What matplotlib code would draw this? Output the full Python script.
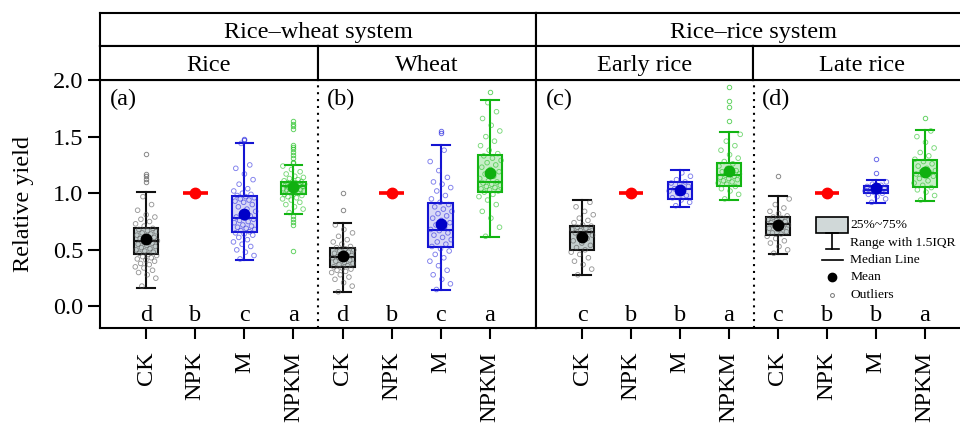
import numpy as np
import matplotlib.pyplot as plt
from matplotlib.patches import Rectangle

plt.rcParams['font.family'] = ['Liberation Serif', 'DejaVu Serif']

# ------------------------------------------------------------------
# data
# ------------------------------------------------------------------
TREATMENTS = ["CK", "NPK", "M", "NPKM"]
PANEL_TAGS = ["(a)", "(b)", "(c)", "(d)"]
LETTERS = [["d", "b", "c", "a"],
           ["d", "b", "c", "a"],
           ["c", "b", "b", "a"],
           ["c", "b", "b", "a"]]

# box statistics per panel, order CK, NPK, M, NPKM
Q1 = [[0.466, 1.0, 0.66, 0.99],
      [0.35, 1.0, 0.525, 1.01],
      [0.50, 1.0, 0.95, 1.065],
      [0.63, 1.0, 1.00, 1.057]]
MEDIAN = [[0.575, 1.0, 0.78, 1.06],
          [0.435, 1.0, 0.675, 1.095],
          [0.66, 1.0, 1.035, 1.16],
          [0.725, 1.0, 1.03, 1.175]]
Q3 = [[0.69, 1.0, 0.98, 1.10],
      [0.52, 1.0, 0.915, 1.34],
      [0.71, 1.0, 1.10, 1.265],
      [0.79, 1.0, 1.065, 1.29]]
WHIS_LO = [[0.165, 1.0, 0.41, 0.82],
           [0.127, 1.0, 0.145, 0.61],
           [0.275, 1.0, 0.88, 0.94],
           [0.466, 1.0, 0.91, 0.933]]
WHIS_HI = [[1.01, 1.0, 1.44, 1.245],
           [0.735, 1.0, 1.43, 1.82],
           [0.94, 1.0, 1.205, 1.537],
           [0.977, 1.0, 1.12, 1.557]]
MEAN = [[0.60, 1.0, 0.815, 1.055],
        [0.45, 1.0, 0.73, 1.175],
        [0.61, 1.0, 1.03, 1.20],
        [0.72, 1.0, 1.05, 1.19]]

OUTLIERS = [
    [[1.345, 1.17, 1.15, 1.13, 1.095], [], [1.48, 1.47],
     [1.635, 1.61, 1.59, 1.57, 1.43, 1.41, 1.39, 1.36, 1.34, 1.31, 1.28, 1.27,
      0.80, 0.77, 0.75, 0.72, 0.49]],
    [[1.0, 0.855], [], [1.55, 1.53], [1.89]],
    [[], [], [], [1.94, 1.815, 1.76, 1.635]],
    [[1.154], [], [1.30, 1.18], [1.667]],
]

# individual observations (approximate)
POINTS_A = [
    [0.18, 0.25, 0.28, 0.30, 0.32, 0.34, 0.35, 0.37, 0.38, 0.40, 0.41, 0.42,
     0.43, 0.44, 0.45, 0.46, 0.47, 0.48, 0.49, 0.50, 0.51, 0.52, 0.53, 0.54,
     0.55, 0.56, 0.57, 0.58, 0.59, 0.60, 0.61, 0.62, 0.63, 0.64, 0.65, 0.66,
     0.67, 0.68, 0.69, 0.71, 0.73, 0.75, 0.77, 0.79, 0.81, 0.85, 0.90, 0.97],
    [],
    [0.42, 0.45, 0.48, 0.50, 0.53, 0.55, 0.57, 0.59, 0.61, 0.63, 0.64, 0.65,
     0.66, 0.67, 0.68, 0.69, 0.70, 0.71, 0.72, 0.74, 0.75, 0.76, 0.77, 0.78,
     0.79, 0.80, 0.82, 0.84, 0.86, 0.88, 0.90, 0.92, 0.93, 0.94, 0.95, 0.96,
     0.97, 0.98, 0.99, 1.00, 1.02, 1.04, 1.08, 1.12, 1.17, 1.22, 1.25, 1.44],
    [0.83, 0.86, 0.88, 0.90, 0.92, 0.94, 0.95, 0.96, 0.97, 0.98, 0.99, 0.99,
     1.00, 1.01, 1.02, 1.02, 1.03, 1.03, 1.04, 1.04, 1.05, 1.05, 1.06, 1.06,
     1.07, 1.07, 1.08, 1.08, 1.09, 1.09, 1.10, 1.10, 1.11, 1.12, 1.13, 1.14,
     1.15, 1.17, 1.19, 1.21, 1.24],
]
POINTS_B = [
    [0.13, 0.18, 0.21, 0.24, 0.26, 0.28, 0.30, 0.31, 0.32, 0.33, 0.34, 0.35,
     0.36, 0.37, 0.38, 0.39, 0.40, 0.41, 0.42, 0.43, 0.43, 0.44, 0.45, 0.46,
     0.47, 0.48, 0.49, 0.50, 0.51, 0.52, 0.53, 0.55, 0.57, 0.59, 0.62, 0.65,
     0.68, 0.72],
    [],
    [0.15, 0.20, 0.24, 0.28, 0.32, 0.36, 0.40, 0.43, 0.46, 0.49, 0.51, 0.53,
     0.55, 0.57, 0.59, 0.61, 0.63, 0.65, 0.67, 0.68, 0.70, 0.72, 0.74, 0.76,
     0.78, 0.80, 0.82, 0.84, 0.86, 0.88, 0.90, 0.92, 0.95, 0.98, 1.02, 1.05,
     1.08, 1.10, 1.14, 1.20, 1.28, 1.38],
    [0.62, 0.70, 0.78, 0.84, 0.90, 0.94, 0.97, 0.99, 1.01, 1.02, 1.03, 1.04,
     1.05, 1.06, 1.07, 1.08, 1.09, 1.10, 1.11, 1.13, 1.15, 1.17, 1.19, 1.21,
     1.23, 1.25, 1.27, 1.29, 1.31, 1.33, 1.35, 1.38, 1.42, 1.46, 1.50, 1.55,
     1.60, 1.66, 1.72, 1.80],
]
POINTS_C = [
    [0.28, 0.33, 0.37, 0.40, 0.43, 0.46, 0.48, 0.50, 0.52, 0.54, 0.56, 0.58,
     0.60, 0.62, 0.63, 0.64, 0.65, 0.66, 0.67, 0.68, 0.69, 0.70, 0.71, 0.72,
     0.74, 0.76, 0.78, 0.81, 0.84, 0.88, 0.92],
    [],
    [0.89, 0.92, 0.94, 0.96, 0.98, 1.00, 1.02, 1.03, 1.04, 1.06, 1.08, 1.09,
     1.10, 1.12, 1.15, 1.18],
    [0.95, 0.99, 1.02, 1.04, 1.06, 1.08, 1.09, 1.10, 1.11, 1.12, 1.13, 1.14,
     1.15, 1.16, 1.17, 1.18, 1.19, 1.20, 1.22, 1.24, 1.26, 1.28, 1.31, 1.34,
     1.38, 1.42, 1.46, 1.52],
]
POINTS_D = [
    [0.47, 0.50, 0.53, 0.56, 0.58, 0.60, 0.62, 0.64, 0.65, 0.66, 0.68, 0.69,
     0.70, 0.71, 0.72, 0.73, 0.74, 0.75, 0.76, 0.77, 0.78, 0.79, 0.80, 0.82,
     0.84, 0.87, 0.90, 0.95],
    [],
    [0.92, 0.95, 0.97, 0.99, 1.00, 1.01, 1.02, 1.03, 1.03, 1.04, 1.05, 1.06,
     1.07, 1.08, 1.10],
    [0.94, 0.98, 1.01, 1.03, 1.05, 1.07, 1.09, 1.11, 1.13, 1.15, 1.16, 1.17,
     1.18, 1.19, 1.20, 1.22, 1.24, 1.26, 1.28, 1.30, 1.33, 1.36, 1.40, 1.45,
     1.50, 1.55],
]
POINTS = [POINTS_A, POINTS_B, POINTS_C, POINTS_D]

SYSTEMS = ["Rice\u2013wheat system", "Rice\u2013rice system"]
CROPS = ["Rice", "Wheat", "Early rice", "Late rice"]

# styles per treatment
EDGE = ["#111111", "#ff0000", "#1414d2", "#12b412"]
FILL = ["#c4cece", "none", "#d8d8f6", "#c8eec8"]
PT_COL = ["#555555", "#ff0000", "#2a2ae0", "#22c022"]
MEAN_COL = ["#000000", "#ff0000", "#0000c8", "#10b010"]

# ------------------------------------------------------------------
# layout (pixel based)
# ------------------------------------------------------------------
W, H = 960, 429
fig = plt.figure(figsize=(W / 100, H / 100), dpi=100)


def px_rect(x0, y0, x1, y1):
    return [x0 / W, 1 - y1 / H, (x1 - x0) / W, (y1 - y0) / H]


SYS_X = [(100, 536), (536, 971)]
LW = 1.5
FS = 17.5

axes = []
for s, (x0, x1) in enumerate(SYS_X):
    ax = fig.add_axes(px_rect(x0, 80, x1, 328))
    ax.set_xlim(0.06, 8.94)
    ax.set_ylim(-0.19, 2.0)
    for sp in ax.spines.values():
        sp.set_linewidth(LW)
    ax.set_xticks(range(1, 9))
    ax.set_xticklabels(TREATMENTS * 2, rotation=90)
    ax.tick_params(axis='x', length=8, width=LW, labelsize=FS, pad=9)
    if s == 0:
        ax.set_yticks([0.0, 0.5, 1.0, 1.5, 2.0])
        ax.set_yticklabels([f"{v:.1f}" for v in [0.0, 0.5, 1.0, 1.5, 2.0]])
        ax.tick_params(axis='y', length=9, width=LW, labelsize=FS, pad=3)
    else:
        ax.tick_params(axis='y', left=False, labelleft=False)
    ax.axvline(4.5, color='k', lw=1.5, ls=(0, (1, 2.3)), zorder=1)
    axes.append(ax)

jit_cache = {}


def jitter(n):
    if n not in jit_cache:
        jit_cache[n] = ((np.arange(n) * 0.618034 + 0.31) % 1 - 0.5) * 0.46
    return jit_cache[n]


for p in range(4):
    ax = axes[p // 2]
    off = 4 * (p % 2)
    for t in range(4):
        pos = off + t + 1
        stat = dict(med=MEDIAN[p][t], q1=Q1[p][t], q3=Q3[p][t],
                    whislo=WHIS_LO[p][t], whishi=WHIS_HI[p][t],
                    fliers=OUTLIERS[p][t])
        lw_box = 2.6 if t == 1 else LW
        ax.bxp([stat], positions=[pos], widths=0.5, capwidths=0.36,
               patch_artist=True, showmeans=False, manage_ticks=False,
               boxprops=dict(facecolor=FILL[t], edgecolor=EDGE[t], linewidth=lw_box),
               whiskerprops=dict(color=EDGE[t], linewidth=LW),
               capprops=dict(color=EDGE[t], linewidth=LW),
               medianprops=dict(color=EDGE[t], linewidth=LW),
               flierprops=dict(marker='o', markerfacecolor='none',
                               markeredgecolor=PT_COL[t], markersize=3.2,
                               markeredgewidth=0.7, alpha=0.7),
               zorder=2)
        vals = np.array(POINTS[p][t])
        if len(vals):
            ax.scatter(pos + jitter(len(vals)), vals, s=11, facecolors='none',
                       edgecolors=PT_COL[t], linewidths=0.65, alpha=0.6, zorder=3)
        ax.plot([pos], [MEAN[p][t]], 'o', color=MEAN_COL[t], markersize=7.5,
                zorder=5)
        ax.text(pos, -0.13, LETTERS[p][t], ha='center', va='baseline',
                fontsize=FS)
    tag_x = 0.26 if p % 2 == 0 else 4.68
    ax.text(tag_x, 1.92, PANEL_TAGS[p], ha='left', va='top', fontsize=FS)

# ------------------------------------------------------------------
# header strips
# ------------------------------------------------------------------
cells = [(100, 536, 13, 46, SYSTEMS[0], 0.24),
         (536, 971, 13, 46, SYSTEMS[1], 0.24),
         (100, 318, 46, 80, CROPS[0], 0.26),
         (318, 536, 46, 80, CROPS[1], 0.26),
         (536, 753, 46, 80, CROPS[2], 0.26),
         (753, 971, 46, 80, CROPS[3], 0.26)]
for x0, x1, y0, y1, label, yb in cells:
    hax = fig.add_axes(px_rect(x0, y0, x1, y1))
    hax.set_xticks([])
    hax.set_yticks([])
    for sp in hax.spines.values():
        sp.set_linewidth(LW)
    hax.text(0.5, yb, label, ha='center', va='baseline', fontsize=FS,
             transform=hax.transAxes)

fig.text(24 / W, 1 - 204 / H, "Relative yield", rotation=90, ha='center',
         va='center', fontsize=FS)

# ------------------------------------------------------------------
# hand-made legend inside panel (d)
# ------------------------------------------------------------------
lax = axes[1]
cx = 6.11
lax.add_patch(Rectangle((5.78, 0.652), 0.65, 0.14, facecolor='#d0d8d8',
                        edgecolor='k', lw=1.2, zorder=6))
lax.plot([cx, cx], [0.645, 0.505], color='k', lw=1.2, zorder=6)
lax.plot([cx - 0.12, cx + 0.12], [0.645, 0.645], color='k', lw=1.2, zorder=6)
lax.plot([cx - 0.14, cx + 0.14], [0.505, 0.505], color='k', lw=1.2, zorder=6)
lax.plot([cx - 0.22, cx + 0.22], [0.413, 0.413], color='k', lw=1.2, zorder=6)
lax.plot([cx], [0.26], 'o', color='k', markersize=6, zorder=6)
lax.plot([cx], [0.105], 'o', markerfacecolor='none', markeredgecolor='#777777',
         markersize=2.8, markeredgewidth=0.7, zorder=6)
leg_txt = ["25%~75%", "Range with 1.5IQR", "Median Line", "Mean", "Outliers"]
leg_y = [0.723, 0.564, 0.413, 0.262, 0.105]
for txt, yy in zip(leg_txt, leg_y):
    lax.text(6.48, yy, txt, ha='left', va='center', fontsize=9.7, zorder=6)

fig.savefig("out.png", dpi=100)
